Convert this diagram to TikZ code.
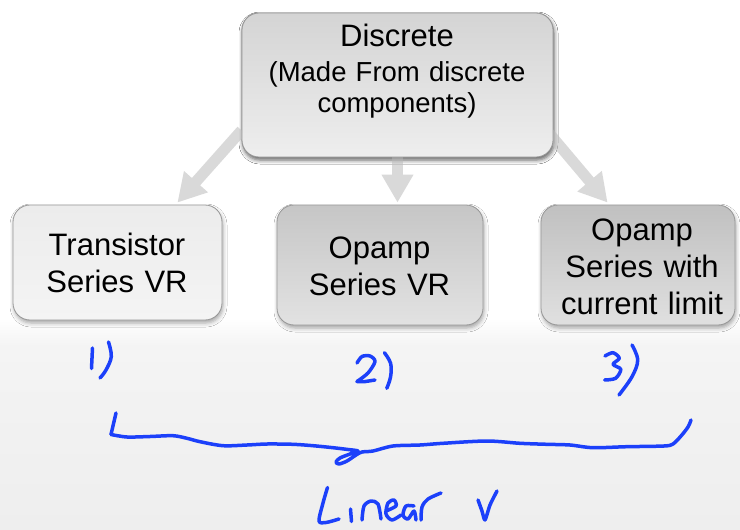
\documentclass[tikz,border=0pt]{standalone}
\usepackage{fontspec}
\setmainfont{Liberation Sans}
\usetikzlibrary{arrows.meta,shadows.blur}

\definecolor{hand}{RGB}{28,64,250}
\definecolor{arrowgray}{RGB}{217,217,217}
\definecolor{edgegray}{RGB}{150,150,150}
\definecolor{bgband}{RGB}{244,244,244}
\definecolor{bglow}{RGB}{238,238,238}

\tikzset{
  box/.style={draw=edgegray, line width=0.8pt, rounded corners=17pt, inner sep=0pt,
    blur shadow={shadow xshift=1pt, shadow yshift=-3pt, shadow blur radius=4pt, shadow opacity=35}},
  flow/.style={draw=arrowgray, line width=11pt, -{Triangle[length=28pt,width=30pt]}},
  boxtext/.style={text width=280pt, align=center, anchor=base, inner sep=0pt,
    font=\fontsize{31}{37}\selectfont},
  ink/.style={draw=hand, line width=3.5pt, line cap=round, line join=round},
}

\begin{document}
\begin{tikzpicture}[x=1pt, y=-1pt]
  \useasboundingbox (0,0) rectangle (740,530);

  % page background: white above, faint grey band below the boxes
  \fill[white] (0,0) rectangle (740,530);
  \shade[top color=white, bottom color=bgband] (0,318) rectangle (740,346);
  \shade[top color=bgband, bottom color=bglow] (0,346) rectangle (740,530);

  % boxes
  \node[box, minimum width=311pt, minimum height=144pt,
        top color={rgb,255:red,212;green,212;blue,212}, bottom color={rgb,255:red,238;green,238;blue,238}]
        (top) at (397.5,85) {};
  \node[box, minimum width=209pt, minimum height=115pt,
        top color={rgb,255:red,236;green,236;blue,236}, bottom color={rgb,255:red,244;green,244;blue,244}]
        (left) at (117.5,262.5) {};
  \node[box, minimum width=206pt, minimum height=120pt,
        top color={rgb,255:red,198;green,198;blue,198}, bottom color={rgb,255:red,226;green,226;blue,226}]
        (mid) at (380,265) {};
  \node[box, minimum width=194pt, minimum height=120pt,
        top color={rgb,255:red,192;green,192;blue,192}, bottom color={rgb,255:red,224;green,224;blue,224}]
        (right) at (638,265) {};

  % connectors from the top box to the three variants
  \draw[flow] ([yshift=27pt]top.south west) -- ([xshift=-45pt,yshift=2pt]left.north east);
  \draw[flow] (top.south) -- ([xshift=17.5pt,yshift=2pt]mid.north);
  \draw[flow] ([xshift=-5pt,yshift=25pt]top.south east) -- ([xshift=67pt,yshift=2pt]right.north west);

  % redraw the top box over the arrow roots
  \node[box, minimum width=311pt, minimum height=144pt,
        top color={rgb,255:red,212;green,212;blue,212}, bottom color={rgb,255:red,238;green,238;blue,238}]
        (topface) at (top.center) {};

  % box texts
  \node[boxtext] (tTopA) at (397,46) {Discrete};
  \node[boxtext, font=\fontsize{27.5}{32}\selectfont] (tTopB) at (397,81) {(Made From discrete\\components)};
  \node[boxtext] (tLeft) at (117,255) {Transistor\\Series VR};
  \node[boxtext] (tMid) at (379.5,258) {Opamp\\Series VR};
  \node[boxtext] (tRight) at (642,240) {Opamp\\Series with\\current limit};

  % handwritten numbering
  \draw[ink] (92.5,348) -- (91.5,368.5);
  \draw[ink] plot[smooth, tension=0.6] coordinates {(108.5,342) (111.3,356.5) (106,370) (100,378)};

  \draw[ink] plot[smooth, tension=0.5] coordinates {(357,363) (362,356.5) (370,356) (375,361.5) (368,373) (357,381.5)};
  \draw[ink] (357,381.5) -- (365.5,381.5) -- (375,380);
  \draw[ink] plot[smooth, tension=0.6] coordinates {(384.4,352.7) (390.6,363.3) (390.6,376.7) (386.8,388.3)};

  \draw[ink] plot[smooth, tension=0.5] coordinates {(605,356) (613,352.7) (619.3,358.3) (613,364.3) (620.8,369.3) (615.6,378.3) (604.7,380)};
  \draw[ink] plot[smooth, tension=0.6] coordinates {(632,345) (637.7,360) (632,376.7) (619,395)};

  % handwritten brace
  \draw[ink] (116,413) -- (111,434.5);
  \draw[ink] plot[smooth, tension=0.5] coordinates {
    (111,434.5) (127,437) (150,436.5) (173,435.7) (187,438.3) (200,441.7) (223,445.7)
    (247,445) (267,444) (293,444.3) (313,445.7) (333,447.7) (348,449.5) (358,451)
    (350,454) (340,458) (336,462) (339,464) (347,461) (356,455) (362,452)
    (373,451) (393,446) (420,445) (443,443.3) (487,441) (520,443.3) (547,444.3)
    (570,445) (593,447.7) (627,446.7) (664,446) (673,444) (681,436) (688,427) (691,420)};

  % handwritten "Linear v"
  \draw[ink] plot[smooth, tension=0.5] coordinates {(327.5,487.5) (323,503) (319,521) (326,522.5) (339,519)};
  \draw[ink] (350.5,509) -- (351.5,521.5);
  \draw[ink] plot[smooth, tension=0.5] coordinates {(362,520) (364,506) (371,501) (378,504) (381,519)};
  \draw[ink] plot[smooth, tension=0.5] coordinates {(386,511) (396,506) (394,500) (388,503) (386,514) (392,520) (401,515)};
  \draw[ink] plot[smooth, tension=0.5] coordinates {(414,506) (406,506) (403,515) (408,519) (414,511) (416,520)};
  \draw[ink] plot[smooth, tension=0.5] coordinates {(421,520) (422,507) (428,499) (441,493)};
  \draw[ink] plot[smooth, tension=0.4] coordinates {(478,500) (482,511) (485,520) (490,505) (497,491)};
\end{tikzpicture}
\end{document}
